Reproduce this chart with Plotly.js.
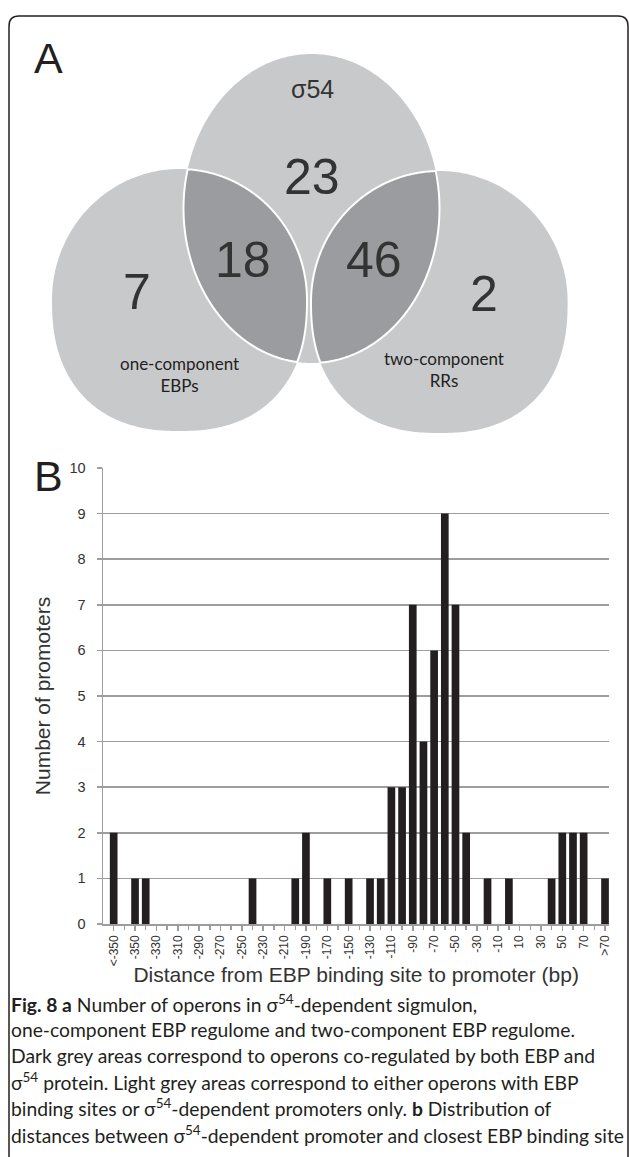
<!DOCTYPE html>
<html>
<head>
<meta charset="utf-8">
<script src="https://cdn.plot.ly/plotly-3.0.1.min.js"></script>
<style>html,body{margin:0;padding:0;background:#fff;}#chart{width:629px;height:1157px;}</style>
</head>
<body>
<div id="chart"></div>
<script>
// ---------- DATA ----------
// Panel A: Venn diagram counts
const vennRegions = ['one-component EBPs only', 'σ54 only', 'σ54 & one-component', 'σ54 & two-component', 'two-component RRs only'];
const vennCounts  = [7, 23, 18, 46, 2];
const vennSetLabels = ['σ54', 'one-component<br>EBPs', 'two-component<br>RRs'];

// Panel B: histogram of distances
const categories = ['<-350','-360','-350','-340','-330','-320','-310','-300','-290','-280','-270','-260','-250','-240','-230','-220','-210','-200','-190','-180','-170','-160','-150','-140','-130','-120','-110','-100','-90','-80','-70','-60','-50','-40','-30','-20','-10','0','10','20','30','40','50','60','70','80','>70'];
const counts     = [2,0,1,1,0,0,0,0,0,0,0,0,0,1,0,0,0,1,2,0,1,0,1,0,1,1,3,3,7,4,6,9,7,2,0,1,0,1,0,0,0,1,2,2,2,0,1];
const labelledCats   = categories.filter((c, i) => i % 2 === 0);
const unlabelledCats = categories.filter((c, i) => i % 2 === 1);

const captionLines = [
  '<b>Fig. 8 a</b> Number of operons in σ<sup>54</sup>-dependent sigmulon,',
  'one-component EBP regulome and two-component EBP regulome.',
  'Dark grey areas correspond to operons co-regulated by both EBP and',
  'σ<sup>54</sup> protein. Light grey areas correspond to either operons with EBP',
  'binding sites or σ<sup>54</sup>-dependent promoters only. <b>b</b> Distribution of',
  'distances between σ<sup>54</sup>-dependent promoter and closest EBP binding site'
];

// ---------- LAYOUT HELPERS ----------
const W = 629, H = 1157;
const px = x => x / W;
const py = y => 1 - y / H;

// Venn shape geometry (pixels): centre, radii, exponent of upper / lower half
const shTop   = {cx: 311.5, cy: 208.5, rx: 128,   ry: 154.5, nUp: 2, nDn: 2};
const shLeft  = {cx: 179.5, cy: 300,   rx: 127.5, ry: 131,   nUp: 2, nDn: 2.35};
const shRight = {cx: 439.3, cy: 302,   rx: 128.3, ry: 131,   nUp: 2, nDn: 2.35};

function shapePts(e, n) {
  const pts = [];
  for (let i = 0; i < n; i++) {
    const t = 2 * Math.PI * i / n;
    const c = Math.cos(t), s = Math.sin(t);
    const k = s < 0 ? e.nUp : e.nDn;
    pts.push([e.cx + e.rx * Math.sign(c) * Math.pow(Math.abs(c), 2 / k),
              e.cy + e.ry * Math.sign(s) * Math.pow(Math.abs(s), 2 / k)]);
  }
  return pts;
}
function inside(e, p) {
  const dx = Math.abs(p[0] - e.cx) / e.rx, dyr = (p[1] - e.cy) / e.ry;
  const k = dyr < 0 ? e.nUp : e.nDn;
  return Math.pow(dx, k) + Math.pow(Math.abs(dyr), k) <= 1.0000001;
}
function toPath(pts) {
  return 'M' + pts.map(p => px(p[0]).toFixed(5) + ',' + py(p[1]).toFixed(5)).join('L') + 'Z';
}
function lensPath(a, b) {
  let pts = shapePts(a, 900).filter(p => inside(b, p)).concat(shapePts(b, 900).filter(p => inside(a, p)));
  const mx = pts.reduce((s, p) => s + p[0], 0) / pts.length;
  const my = pts.reduce((s, p) => s + p[1], 0) / pts.length;
  pts.sort((p, q) => Math.atan2(p[1] - my, p[0] - mx) - Math.atan2(q[1] - my, q[0] - mx));
  return toPath(pts);
}
function blob(e, color) {
  return {type: 'path', xref: 'paper', yref: 'paper', path: toPath(shapePts(e, 360)),
    fillcolor: color, line: {width: 0}, layer: 'above'};
}

const light = '#c8c9cb', dark = '#9b9c9f', ink = '#231f20', txt = '#333333';

// Frame: rounded rectangle, left/top/right edges
const fr = {l: 9, t: 16, r: 628, b: 1158, rad: 10};
const framePath = 'M' + px(fr.l) + ',' + py(fr.b) +
  'L' + px(fr.l) + ',' + py(fr.t + fr.rad) +
  'Q' + px(fr.l) + ',' + py(fr.t) + ' ' + px(fr.l + fr.rad) + ',' + py(fr.t) +
  'L' + px(fr.r - fr.rad) + ',' + py(fr.t) +
  'Q' + px(fr.r) + ',' + py(fr.t) + ' ' + px(fr.r) + ',' + py(fr.t + fr.rad) +
  'L' + px(fr.r) + ',' + py(fr.b);

const shapes = [
  {type: 'path', xref: 'paper', yref: 'paper', path: framePath, line: {color: ink, width: 1.5}, layer: 'above'},
  blob(shTop, light), blob(shLeft, light), blob(shRight, light),
  {type: 'path', xref: 'paper', yref: 'paper', path: lensPath(shLeft, shTop), fillcolor: dark, line: {color: '#ffffff', width: 2}, layer: 'above'},
  {type: 'path', xref: 'paper', yref: 'paper', path: lensPath(shRight, shTop), fillcolor: dark, line: {color: '#ffffff', width: 2}, layer: 'above'}
];

// Annotation positions (pixels) for Venn counts, in vennCounts order
const countPos = [[136.5, 292], [312, 177], [243, 260], [373.5, 260], [484, 294]];
const numFont = {family: '"Liberation Sans", Arial, sans-serif', size: 50, color: txt};
const annotations = [];
vennCounts.forEach((v, i) => {
  annotations.push({xref: 'paper', yref: 'paper', x: px(countPos[i][0]), y: py(countPos[i][1]),
    xanchor: 'center', yanchor: 'middle', showarrow: false, text: String(v), font: numFont});
});
annotations.push({xref: 'paper', yref: 'paper', x: px(312), y: py(89), xanchor: 'center', yanchor: 'middle',
  showarrow: false, text: vennSetLabels[0], font: {family: '"Liberation Sans", Arial, sans-serif', size: 25, color: txt}});
annotations.push({xref: 'paper', yref: 'paper', x: px(179), y: py(374), xanchor: 'center', yanchor: 'middle',
  showarrow: false, text: vennSetLabels[1], align: 'center', font: {family: 'Lato, "Open Sans", sans-serif', size: 17, color: ink}});
annotations.push({xref: 'paper', yref: 'paper', x: px(444), y: py(369), xanchor: 'center', yanchor: 'middle',
  showarrow: false, text: vennSetLabels[2], align: 'center', font: {family: 'Lato, "Open Sans", sans-serif', size: 17, color: ink}});
// Panel letters
annotations.push({xref: 'paper', yref: 'paper', x: px(48), y: py(58), xanchor: 'center', yanchor: 'middle',
  showarrow: false, text: 'A', font: {family: '"Liberation Sans", Arial, sans-serif', size: 43, color: ink}});
annotations.push({xref: 'paper', yref: 'paper', x: px(48), y: py(476), xanchor: 'center', yanchor: 'middle',
  showarrow: false, text: 'B', font: {family: '"Liberation Sans", Arial, sans-serif', size: 43, color: ink}});
// Caption
const capY0 = 1003, capStep = 26.2;
captionLines.forEach((t, i) => {
  annotations.push({xref: 'paper', yref: 'paper', x: px(9), y: py(capY0 + i * capStep), xanchor: 'left', yanchor: 'middle',
    showarrow: false, text: t, align: 'left', font: {family: 'Lato, "Open Sans", sans-serif', size: 19.3, color: ink}});
});

const grey = '#9d9d9d';
const xCommon = {
  type: 'category',
  domain: [px(103), px(609.3)],
  range: [-1, 46.4],
  categoryorder: 'array', categoryarray: categories,
  ticks: 'outside', ticklen: 5, tickwidth: 1.5, tickcolor: grey,
  showgrid: false, zeroline: false,
  automargin: false, fixedrange: true
};
const layout = {
  width: W, height: H,
  margin: {l: 0, r: 0, t: 0, b: 0},
  paper_bgcolor: '#ffffff', plot_bgcolor: '#ffffff',
  showlegend: false,
  bargap: 0.28,
  font: {family: '"Liberation Sans", Arial, sans-serif', color: txt},
  xaxis: Object.assign({}, xCommon, {
    tickmode: 'array', tickvals: labelledCats, ticktext: labelledCats,
    tickangle: -90,
    showline: true, linecolor: grey, linewidth: 1.5,
    tickfont: {size: 12, color: txt},
    title: {text: 'Distance from EBP binding site to promoter (bp)', font: {size: 21, color: txt}, standoff: 2}
  }),
  xaxis2: Object.assign({}, xCommon, {
    overlaying: 'x', anchor: 'y', side: 'bottom',
    tickmode: 'array', tickvals: unlabelledCats,
    showticklabels: false, showline: false
  }),
  yaxis: {
    domain: [py(924), py(468)],
    range: [0, 10], dtick: 1, tick0: 0,
    ticks: 'outside', ticklen: 5, tickwidth: 1.5, tickcolor: grey,
    ticklabelstandoff: 8,
    showline: true, linecolor: grey, linewidth: 1.5,
    showgrid: true, gridcolor: grey, gridwidth: 1.5,
    zeroline: false,
    tickfont: {size: 14.5, color: txt},
    title: {text: 'Number of promoters', font: {size: 21, color: txt}, standoff: 13},
    automargin: false, fixedrange: true
  },
  shapes: shapes,
  annotations: annotations
};

const data = [
  {type: 'bar', x: categories, y: counts, marker: {color: ink, line: {width: 0}}, hoverinfo: 'skip'},
  {type: 'scatter', mode: 'markers', x: categories, y: categories.map(() => null), xaxis: 'x2', yaxis: 'y',
   hoverinfo: 'skip', showlegend: false, marker: {size: 0, opacity: 0}}
];

Plotly.newPlot('chart', data, layout, {staticPlot: true, displayModeBar: false});
</script>
</body>
</html>
